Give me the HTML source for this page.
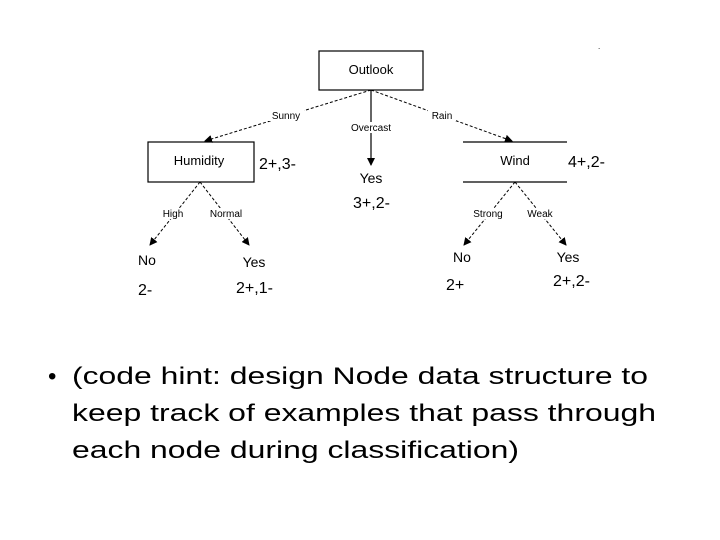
<!DOCTYPE html>
<html><head><meta charset="utf-8"><style>
html,body{margin:0;padding:0;background:#fff;}
svg{display:block;}
text{font-family:"Liberation Sans",Arial,sans-serif;fill:#000;}
</style></head><body>
<svg width="720" height="540" viewBox="0 0 720 540" xmlns="http://www.w3.org/2000/svg">
<defs><marker id="a" markerWidth="8" markerHeight="8" refX="7" refY="4" orient="auto" markerUnits="userSpaceOnUse"><path d="M0,0 L8,4 L0,8 z" fill="#000"/></marker></defs>
<rect x="319" y="51" width="104" height="39" fill="none" stroke="#000" stroke-width="1.2"/>
<text x="371" y="74" font-size="13" text-anchor="middle">Outlook</text>
<rect x="148" y="142" width="106" height="40" fill="none" stroke="#000" stroke-width="1.2"/>
<text x="199" y="165" font-size="13" text-anchor="middle">Humidity</text>
<line x1="463" y1="142" x2="567" y2="142" stroke="#000" stroke-width="1.2"/>
<line x1="463" y1="182" x2="567" y2="182" stroke="#000" stroke-width="1.2"/>
<text x="515" y="165" font-size="13" text-anchor="middle">Wind</text>
<g stroke="#000" stroke-width="1" stroke-dasharray="3,2" fill="none">
<line x1="371" y1="90" x2="205" y2="141" marker-end="url(#a)"/>
<line x1="371" y1="90" x2="512" y2="141" marker-end="url(#a)"/>
<line x1="200" y1="182" x2="150" y2="245" marker-end="url(#a)"/>
<line x1="200" y1="182" x2="249" y2="245" marker-end="url(#a)"/>
<line x1="515" y1="182" x2="464" y2="245" marker-end="url(#a)"/>
<line x1="515" y1="182" x2="566" y2="245" marker-end="url(#a)"/>
</g>
<line x1="371" y1="90" x2="371" y2="165" stroke="#000" stroke-width="1.2" marker-end="url(#a)"/>
<g font-size="10" text-anchor="middle">
<rect x="268" y="110" width="36" height="11" fill="#fff"/><text x="286" y="119">Sunny</text>
<rect x="347" y="122" width="48" height="11" fill="#fff"/><text x="371" y="131">Overcast</text>
<rect x="428" y="110" width="28" height="11" fill="#fff"/><text x="442" y="119">Rain</text>
<rect x="160" y="208" width="26" height="11" fill="#fff"/><text x="173" y="217">High</text>
<rect x="207" y="208" width="38" height="11" fill="#fff"/><text x="226" y="217">Normal</text>
<rect x="470" y="208" width="36" height="11" fill="#fff"/><text x="488" y="217">Strong</text>
<rect x="524" y="208" width="32" height="11" fill="#fff"/><text x="540" y="217">Weak</text>
</g>
<g font-size="14" text-anchor="middle">
<text x="371" y="183">Yes</text>
<text x="147" y="265">No</text>
<text x="254" y="267">Yes</text>
<text x="462" y="262">No</text>
<text x="568" y="262">Yes</text>
</g>
<g font-size="16">
<text x="259" y="169">2+,3-</text>
<text x="568" y="167">4+,2-</text>
<text x="353" y="208">3+,2-</text>
<text x="138" y="295">2-</text>
<text x="236" y="293">2+,1-</text>
<text x="446" y="290">2+</text>
<text x="553" y="286">2+,2-</text>
</g>
<text x="598" y="49" font-size="8">.</text>
<g font-size="24">
<text x="48" y="384">•</text>
<text x="72" y="384" textLength="576" lengthAdjust="spacingAndGlyphs">(code hint: design Node data structure to</text>
<text x="72" y="421" textLength="584" lengthAdjust="spacingAndGlyphs">keep track of examples that pass through</text>
<text x="72" y="458" textLength="447" lengthAdjust="spacingAndGlyphs">each node during classification)</text>
</g>
</svg>
</body></html>
